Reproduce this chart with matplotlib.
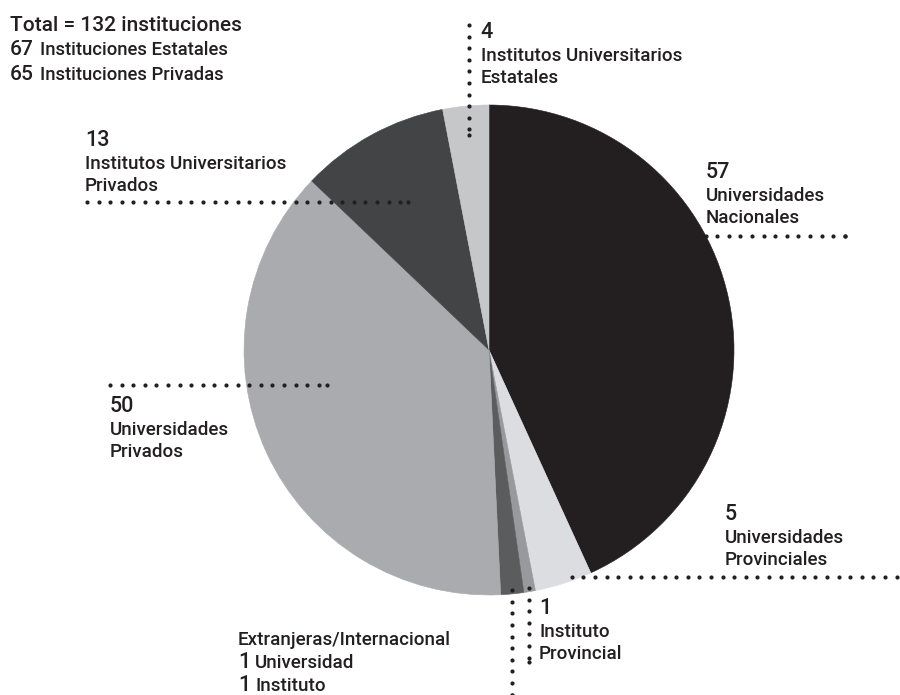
import numpy as np
import matplotlib
matplotlib.use("Agg")
import matplotlib.pyplot as plt

plt.rcParams['font.family'] = ['Roboto', 'DejaVu Sans']
plt.rcParams['font.weight'] = 'medium'

# Institutions by type (clockwise from 12 o'clock)
categories = [
    "Universidades Nacionales",
    "Universidades Provinciales",
    "Instituto Provincial",
    "Extranjeras/Internacional",
    "Universidades Privados",
    "Institutos Universitarios Privados",
    "Institutos Universitarios Estatales",
]
foreign_universities = 1
foreign_institutes = 1
counts = [57, 5, 1, foreign_universities + foreign_institutes, 50, 13, 4]
is_state = [True, True, True, False, False, False, True]
colors = ["#231f20", "#dcdde0", "#97999c", "#5b5c5e", "#a9abae", "#434446", "#c6c7c9"]

total = sum(counts)
n_state = sum(c for c, s in zip(counts, is_state) if s)
n_private = total - n_state

INK = "#231f20"
W, H = 900, 695
CX, CY, R = 489, 350, 245  # pie centre and radius in pixels (y measured downwards)

fig = plt.figure(figsize=(W / 100, H / 100), dpi=100)
ax = fig.add_axes([0, 0, 1, 1])


def py(y):
    """pixel row (downwards) -> data y (upwards)"""
    return H - y


wedges, _ = ax.pie(counts, colors=colors, startangle=90, counterclock=False,
                   radius=R, center=(CX, py(CY)), frame=False)
for w in wedges:
    w.set_edgecolor(w.get_facecolor())
    w.set_linewidth(0.4)

ax.set_xlim(0, W)
ax.set_ylim(0, H)
ax.set_aspect('equal')
ax.axis('off')

renderer = fig.canvas.get_renderer()


def anchor(i, frac, rfrac):
    """point inside wedge i: frac along its angular span, rfrac of the radius"""
    w = wedges[i]
    a = np.deg2rad(w.theta1 + frac * (w.theta2 - w.theta1))
    return CX + rfrac * R * np.cos(a), CY - rfrac * R * np.sin(a)


def dots(x0, y0, x1, y1, step=11.6):
    length = np.hypot(x1 - x0, y1 - y0)
    n = int(length // step)
    t = np.arange(n + 1) * step / length
    xs = np.append(x0 + (x1 - x0) * t, x1)
    ys = np.append(y0 + (y1 - y0) * t, y1)
    ax.scatter(xs, py(ys), s=9, color=INK, linewidths=0, zorder=5)


def put(x, y, s, size, ha='left'):
    return ax.text(x, py(y), s, fontsize=size, color=INK, va='baseline', ha=ha)


def num_text(x, y, num, rest, nsize, tsize, gap=6):
    t = put(x, y, str(num), nsize)
    bb = t.get_window_extent(renderer)
    put(x + bb.width + gap, y, rest, tsize)


NUM = 15.5
TXT = 13.5


def block(x, y, num, lines):
    put(x, y, str(num), NUM)
    for k, line in enumerate(lines):
        put(x, y + 23 + 22 * k, line, TXT)


# summary, top left
put(10, 31, f"Total = {total} instituciones", 15)
num_text(10, 55, n_state, "Instituciones Estatales", 15, 13.3)
num_text(10, 80, n_private, "Instituciones Privadas", 15, 13.3)

# Universidades Nacionales
ax_, ay_ = anchor(0, 0.60, 1.0)
dots(ax_, ay_, 845, ay_)
block(706, ay_ - 58, counts[0], ["Universidades", "Nacionales"])

# Universidades Provinciales
ax_, ay_ = anchor(1, 0.67, 0.985)
dots(ax_, ay_, 905, ay_)
block(725, ay_ - 57, counts[1], ["Universidades", "Provinciales"])

# Instituto Provincial
ax_, ay_ = anchor(2, 0.5, 0.985)
dots(ax_, ay_, ax_, 662)
block(ax_ + 10, 614, counts[2], ["Instituto", "Provincial"])

# Extranjeras / Internacional
ax_, ay_ = anchor(3, 0.5, 0.985)
dots(ax_, ay_, ax_, 695)
ex = ax_ - 274
put(ex, 645, categories[3], TXT)
num_text(ex, 668, foreign_universities, "Universidad", NUM, TXT, gap=5)
num_text(ex, 691, foreign_institutes, "Instituto", NUM, TXT, gap=5)

# Universidades Privados
ax_, ay_ = anchor(4, 0.41, 0.676)
dots(110, ay_, ax_, ay_)
block(110, ay_ + 27, counts[4], ["Universidades", "Privados"])

# Institutos Universitarios Privados
ax_, ay_ = anchor(5, 0.5, 0.69)
dots(87, ay_, ax_, ay_)
block(85, ay_ - 56, counts[5], ["Institutos Universitarios", "Privados"])

# Institutos Universitarios Estatales
ax_, ay_ = anchor(6, 0.5, 0.88)
dots(ax_, 25, ax_, ay_)
block(ax_ + 12, 38, counts[6], ["Institutos Universitarios", "Estatales"])

fig.savefig("out.png", dpi=100, facecolor="white")
